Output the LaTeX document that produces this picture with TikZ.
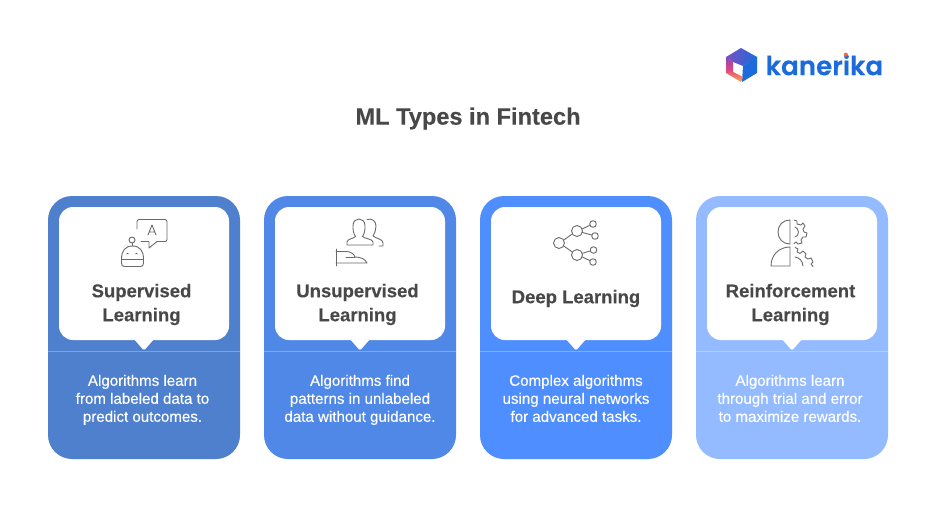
\documentclass[tikz,border=0pt]{standalone}
\usepackage{fontspec}
\setmainfont{Liberation Sans}
\newfontfamily\logofont{Poppins}[UprightFont=* SemiBold,FakeBold=0.3]
\newfontfamily\headfont{Liberation Sans}[UprightFont=* Bold,FakeBold=0.2]
\newfontfamily\bodyfont{Liberation Sans}[FakeBold=0.25]
\definecolor{cardA}{HTML}{4F80CE}
\definecolor{cardB}{HTML}{4F88E6}
\definecolor{cardC}{HTML}{4F8EFF}
\definecolor{cardD}{HTML}{94BBFF}
\definecolor{ink}{HTML}{484848}
\definecolor{iconink}{HTML}{6A6A6A}
\definecolor{logoblue}{HTML}{1C6BDD}
\definecolor{logopurple}{HTML}{7A4FC0}
\definecolor{logoviolet}{HTML}{8A45BC}
\definecolor{logopink}{HTML}{E0457F}
\definecolor{logoorange}{HTML}{FBA54B}
\tikzset{
  headtext/.style={font=\headfont\fontsize{18.5}{24}\selectfont,text=ink,align=center,inner sep=0pt},
  bodytext/.style={font=\bodyfont\fontsize{15.1}{18}\selectfont,text=white,align=center,inner sep=0pt,execute at begin node=\strut,execute at end node=\strut},
  titletext/.style={font=\headfont\fontsize{23.6}{28}\selectfont,text=ink,inner sep=0pt},
  iconline/.style={draw=iconink,line width=0.9pt,line join=round,line cap=round,fill=none},
}
% #1 left x, #2 colour, #3 name
\newcommand{\cardshape}[3]{%
  \fill[#2,rounded corners=24pt] (#1,196) rectangle ++(192,263);
  \draw[white,opacity=.28,line width=.8pt] (#1,351) -- ++(192,0);
  \fill[white,rounded corners=14pt] (#1+11,207) rectangle ++(170,133);
  \fill[white,rounded corners=1.5pt] (#1+85,338) -- (#1+96,350.5) -- (#1+107,338) -- cycle;
}
\begin{document}
\begin{tikzpicture}[x=1pt,y=-1pt]
\useasboundingbox (0,0) rectangle (936,532);
\fill[white] (0,0) rectangle (936,532);

% logo
\shade[left color=logopurple,right color=logoblue,draw=none] (726,57) -- (741,48) -- (757,57) -- (743,66) -- (733,62) -- cycle;
\fill[logoblue] (757,56.5) -- (757,73) -- (742,82) -- (743,66) -- cycle;
\shade[top color=logoviolet,bottom color=logoorange,middle color=logopink,draw=none] (726,57) -- (733,62) -- (733,72) -- (743,77) -- (741,82) -- (726,73) -- cycle;
\node[anchor=west,inner sep=0pt,text=logoblue,font=\logofont\fontsize{26.2}{26}\selectfont] (logo) at (765.5,65) {kanerika};
\fill[logoorange!60!red] (845.8,54.6) circle (2);

\node[titletext] (title) at (468,118.5) {ML Types in Fintech};

\cardshape{48}{cardA}{a}
\cardshape{264}{cardB}{b}
\cardshape{480}{cardC}{c}
\cardshape{696}{cardD}{d}

\node[headtext] (h1) at (141.5,304.5) {Supervised\\Learning};
\node[headtext] (h2) at (357.5,304.5) {Unsupervised\\Learning};
\node[headtext] (h3) at (576,298.5) {Deep Learning};
\node[headtext] (h4) at (790.5,304.5) {Reinforcement\\Learning};

\node[bodytext] (b1) at (142.5,401) {Algorithms learn\\from labeled data to\\predict outcomes.};
\node[bodytext] (b2) at (360,401) {Algorithms find\\patterns in unlabeled\\data without guidance.};
\node[bodytext] (b3) at (576,401) {Complex algorithms\\using neural networks\\for advanced tasks.};
\node[bodytext] (b4) at (790,401) {Algorithms learn\\through trial and error\\to maximize rewards.};

% icon 1: robot with speech bubble
\draw[iconline,rounded corners=2pt] (137,229) -- (137,219.5) -- (167,219.5) -- (167,241.5) -- (157,241.5);
\draw[iconline] (157,241.5) -- (149,248) -- (149,241.5) -- (141,241.5);
\draw[iconline] (148,235) -- (152,225) -- (156,235) (149.3,232) -- (154.7,232);
\draw[iconline] (132,240) circle (3);
\draw[iconline] (132,243) -- (132,246);
\draw[iconline] (121.5,259) .. controls (121.5,251) and (125,246) .. (132.5,246) .. controls (140,246) and (143.5,251) .. (143.5,259) -- (143.5,263) .. controls (143.5,265.5) and (142.5,266.5) .. (140.5,266.5) -- (124.5,266.5) .. controls (122.5,266.5) and (121.5,265.5) .. (121.5,263) -- cycle;
\draw[iconline] (121.5,259) -- (143.5,259);
\draw[iconline,line width=.7pt] (126.5,254) .. controls (127,252.8) and (128,252.8) .. (128.5,254);
\draw[iconline,line width=.7pt] (135.5,254) .. controls (136,252.8) and (137,252.8) .. (137.5,254);

% icon 2: people and shape
\draw[iconline] (347,245) -- (347,242) .. controls (347,239) and (354,238.5) .. (355.5,236.5) .. controls (353,233) and (353,229) .. (353,226) .. controls (353,221) and (356,219) .. (359,219) .. controls (362,219) and (365,221) .. (365,226) .. controls (365,229) and (365,233) .. (362.5,236.5) .. controls (364,238.5) and (373,239) .. (373,242) -- (373,245) -- cycle;
\draw[iconline] (367,219.5) .. controls (372,218) and (376,221) .. (376,226) .. controls (376,229.5) and (375,233) .. (373,236) .. controls (376,238.5) and (383,239) .. (383,243) -- (383,246) -- (379,246);
\draw[iconline] (336,249) -- (336,266);
\draw[iconline] (336,251.5) -- (346,251.5) .. controls (351,251.5) and (354,254) .. (355,257) .. controls (361,257) and (365,259) .. (367,263) -- (336,263);
\draw[iconline] (346,257) -- (355,257);

% icon 3: network
\draw[iconline] (559,243) circle (5.5);
\draw[iconline] (577,231) circle (5.5);
\draw[iconline] (577,255) circle (5.5);
\draw[iconline] (593,224) circle (3.3);
\draw[iconline] (595,236) circle (3.3);
\draw[iconline] (593.5,250) circle (3.3);
\draw[iconline] (593,262) circle (3.3);
\draw[iconline] (563.8,240) -- (572.2,234);
\draw[iconline] (563.8,246) -- (572.2,252);
\draw[iconline] (582.2,229) -- (589.9,225.2);
\draw[iconline] (582.4,232.5) -- (591.8,235);
\draw[iconline] (582.3,253.3) -- (590.3,250.9);
\draw[iconline] (582.3,257) -- (590,260.7);

% icon 4: head and gears
\draw[iconline] (790,220) .. controls (783,220) and (778,225) .. (778,232) .. controls (778,239) and (783,244) .. (790,244) -- cycle;
\draw[iconline] (790,247) -- (790,266) -- (771,266) .. controls (771,255) and (779,247) .. (790,247) -- cycle;
\draw[iconline] (794,220) -- (797,221) -- (797,224) -- (801,225) -- (803,223) -- (805,226) -- (803,229) -- (804,232) -- (807,233) -- (806,237) -- (803,237) -- (801,240) -- (802,243) -- (798,244) -- (796,242) -- (794,243.5);
\draw[iconline] (795,227) .. controls (799,228) and (800,236) .. (795,237);
\draw[iconline] (795,247.5) -- (798,249) -- (797,252) -- (800,253.5) -- (803,251) -- (806,254) -- (805,257) -- (808,259) -- (811,258) -- (813,262) -- (811,264) -- (813,266.5);
\draw[iconline] (795,257) .. controls (799.5,257.5) and (802.5,261) .. (803,266);
\end{tikzpicture}
\end{document}
